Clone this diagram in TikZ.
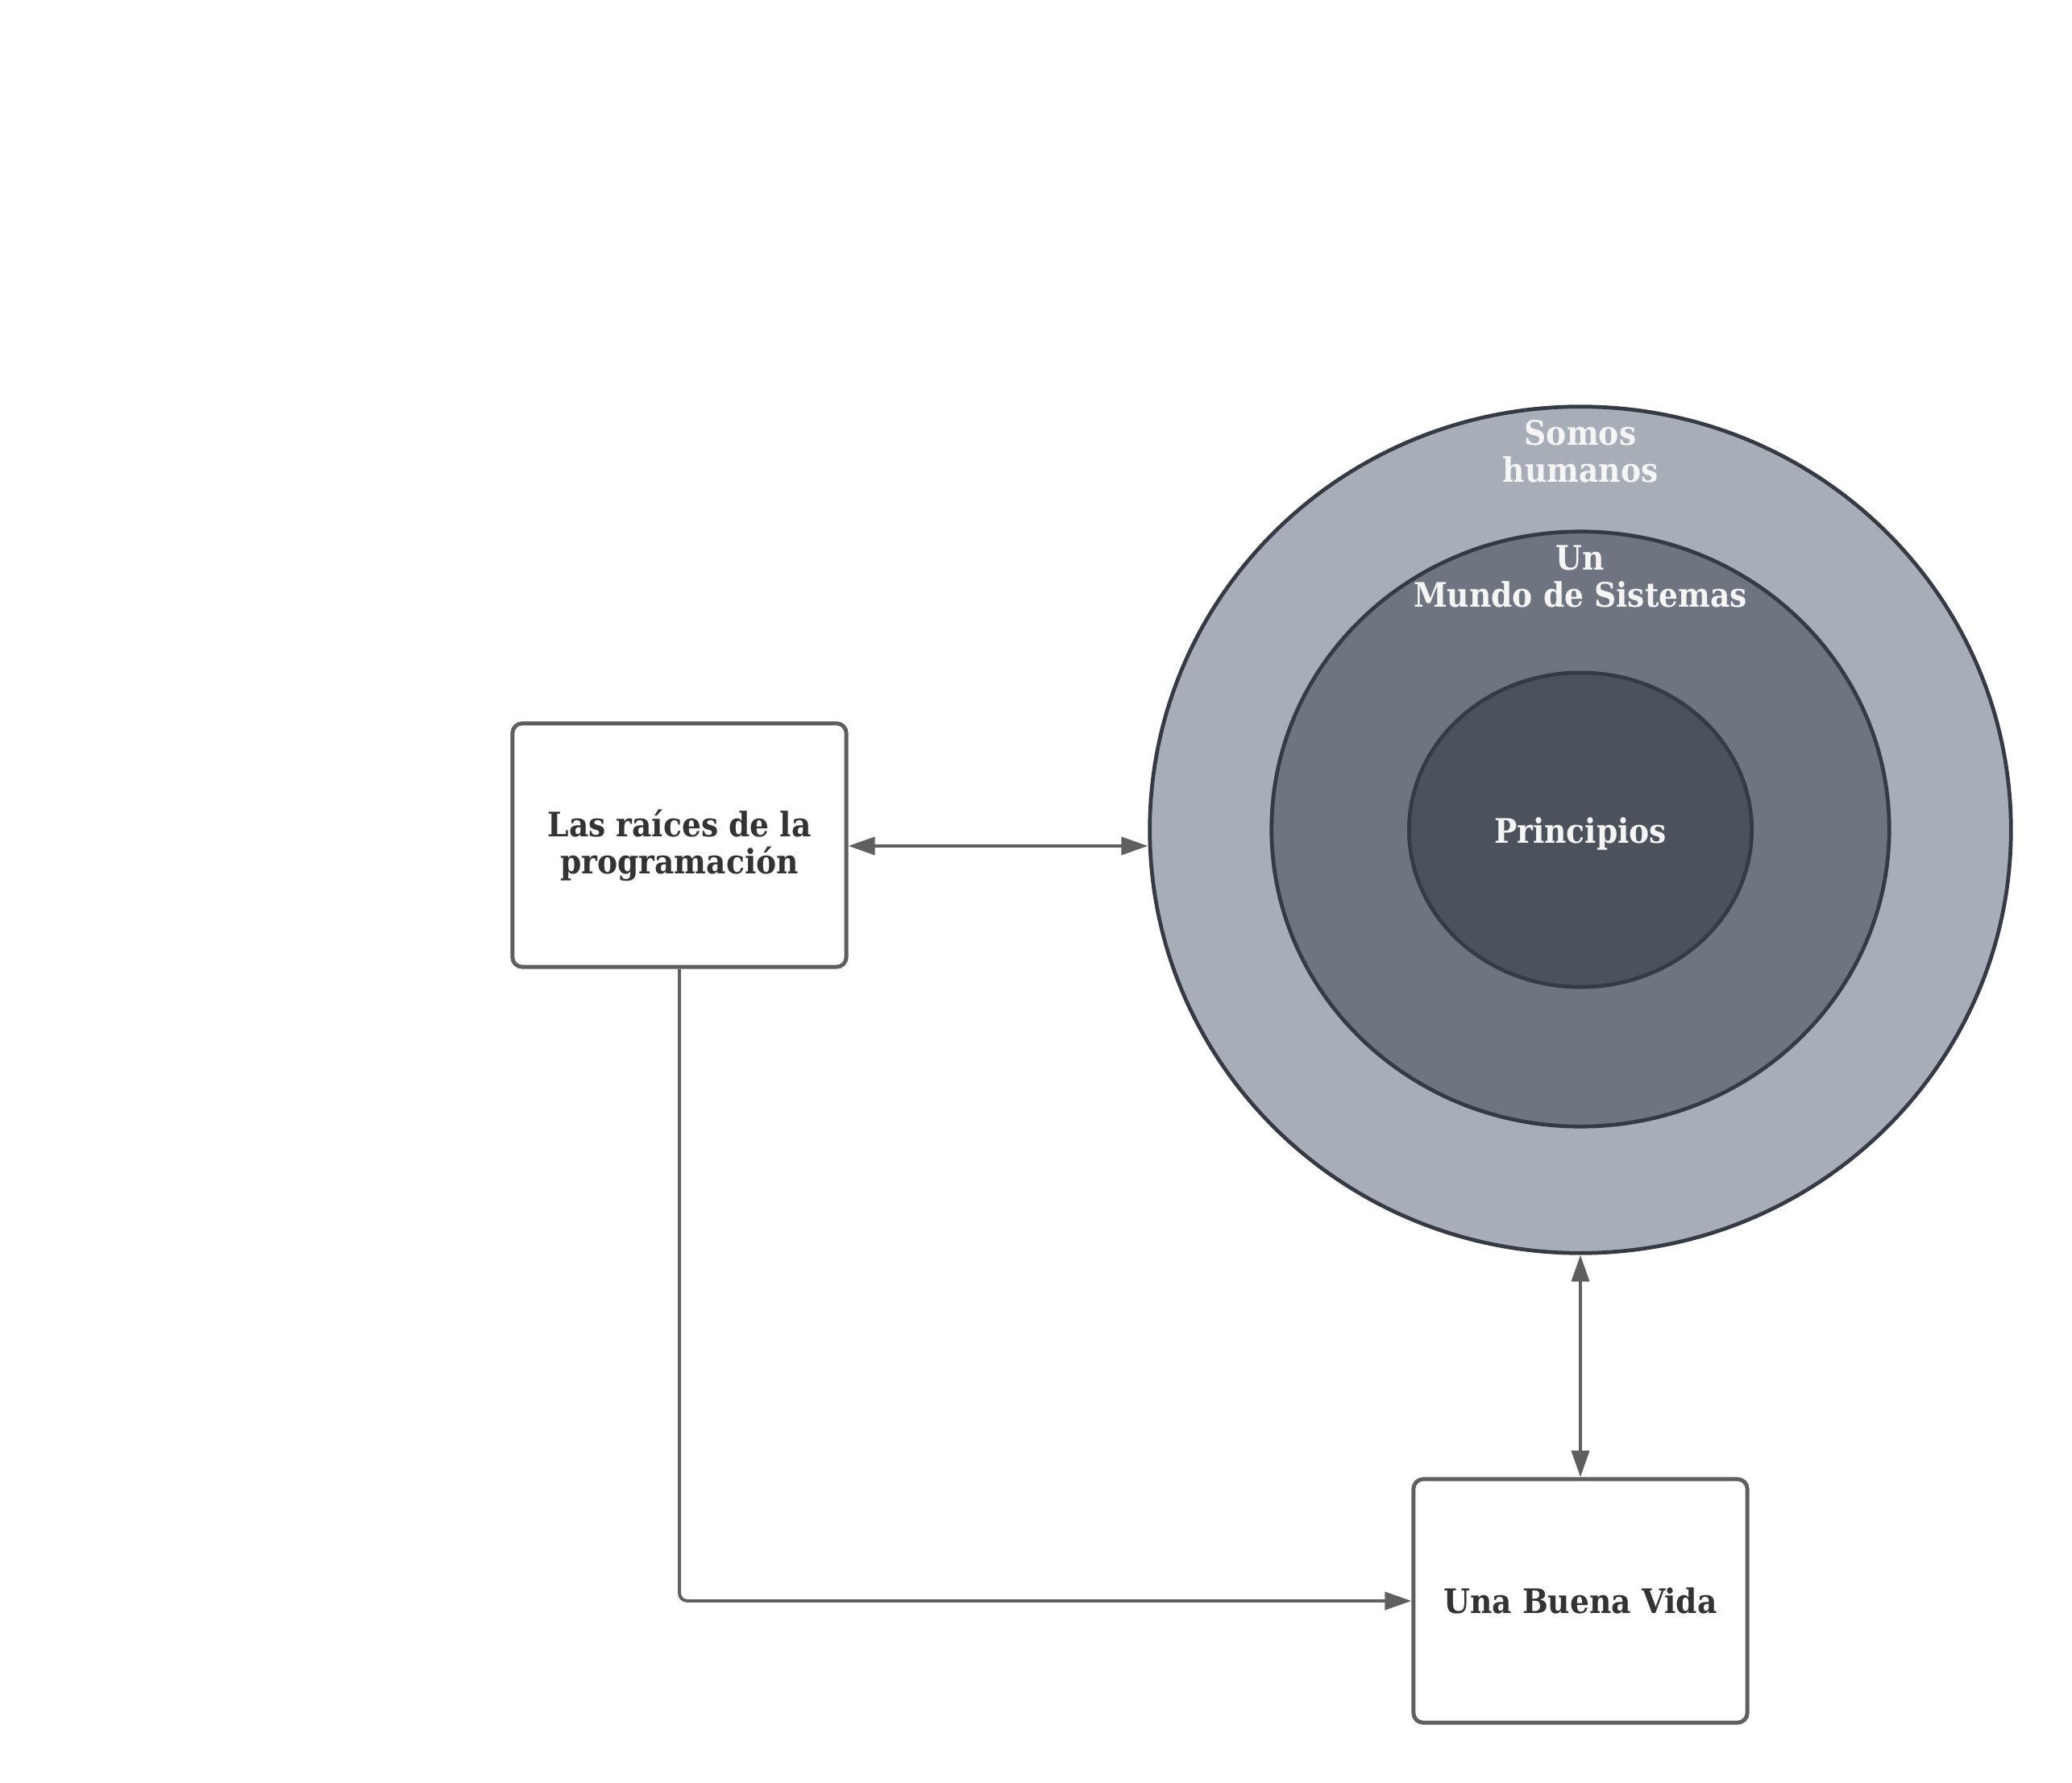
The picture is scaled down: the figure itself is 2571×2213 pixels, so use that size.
\documentclass[tikz,border=0pt]{standalone}
\usepackage{fontspec}
\usepackage{xcolor}
\setmainfont{DejaVu Serif Condensed}
\usetikzlibrary{shapes.geometric}
\usetikzlibrary{arrows.meta}

\definecolor{ringout}{HTML}{A8AEB8}
\definecolor{ringmid}{HTML}{6E7480}
\definecolor{ringin}{HTML}{4B525C}
\definecolor{ringline}{HTML}{353A45}
\definecolor{boxline}{HTML}{5F5F5F}
\definecolor{boxtext}{HTML}{333333}
\definecolor{ringtext}{HTML}{F5F5F5}

\begin{document}
\begin{tikzpicture}[x=0.01cm, y=-0.01cm,
    labelfont/.style={font=\bfseries\fontsize{11.9}{13.1}\selectfont},
    box/.style={draw=boxline, line width=1.4pt, rounded corners=3.4pt, fill=white,
      minimum width=4.14cm, minimum height=3.02cm, align=center, text=boxtext, labelfont},
    ring/.style={ellipse, draw=ringline, line width=1.35pt, inner sep=0pt},
    ringlabel/.style={text=ringtext, align=center, labelfont},
    link/.style={draw=boxline, line width=1.1pt, rounded corners=2.8pt}]
  \useasboundingbox (0,0) rectangle (2571,2213);

  % the three rings
  \node[ring, fill=ringout, minimum width=10.68cm, minimum height=10.50cm] (humanos) at (1961,1030) {};
  \node[ring, fill=ringmid, minimum width=7.66cm, minimum height=7.38cm] (sistemas) at (1961,1029) {};
  \node[ring, fill=ringin, minimum width=4.25cm, minimum height=3.90cm] (principios) at (1961,1030) {};

  \node[ringlabel, anchor=base] (humanosT) at (1961,599) {Somos\\humanos};
  \node[ringlabel, anchor=base] (sistemasT) at (1961,754) {Un\\Mundo de Sistemas};
  \node[ringlabel] (principiosT) at (1961,1035) {Principios};

  % boxes
  \node[box] (raices) at (843,1049) {Las raíces de la\\programación};
  \node[box] (vida) at (1961,1987) {Una Buena Vida};

  \draw[link, {Triangle[length=3.3mm,width=2.2mm]}-{Triangle[length=3.3mm,width=2.2mm]}]
    (raices.east |- 0,1050) -- (humanos.west |- 0,1050);
  \draw[link, {Triangle[length=3.3mm,width=2.2mm]}-{Triangle[length=3.3mm,width=2.2mm]}]
    (humanos.south) -- (vida.north);
  \draw[link, -{Triangle[length=3.3mm,width=2.2mm]}] (raices.south) |- (vida.west);
\end{tikzpicture}
\end{document}
